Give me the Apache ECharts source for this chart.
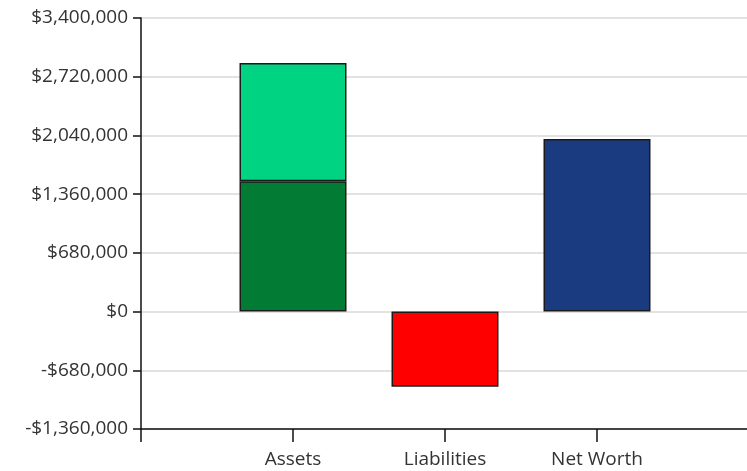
<!DOCTYPE html>
<html>
<head>
<meta charset="utf-8">
<style>
  html, body { margin: 0; padding: 0; background: #fff; }
  #chart { width: 747px; height: 471px; }
</style>
<script src="https://cdn.jsdelivr.net/npm/echarts@6/dist/echarts.min.js"></script>
</head>
<body>
<div id="chart"></div>
<script>
// Categories (blank slots at both ends keep the bars centred between the edge ticks)
const categories = ['', 'Assets', 'Liabilities', 'Net Worth', ''];

// Balance sheet values in dollars
const assetsBase = 1510000;   // lower (dark green) part of Assets
const assetsTop = 1370000;    // upper (light green) part of Assets
const liabilities = -870000;
const netWorth = 2000000;

// Value axis
const yMin = -1360000;
const yMax = 3400000;
const yStep = 680000;

const colors = {
  assetsBase: '#027b34',
  assetsTop: '#00d382',
  liabilities: '#ff0000',
  netWorth: '#1a3b80'
};

function money(v) {
  const s = '$' + Math.abs(v).toLocaleString('en-US');
  return v < 0 ? '-' + s : s;
}

const border = { borderColor: '#1a1a1a', borderWidth: 1.5 };

const chart = echarts.init(document.getElementById('chart'), null, { renderer: 'canvas' });

chart.setOption({
  animation: false,
  backgroundColor: '#ffffff',
  grid: {
    left: 141,
    width: 608,
    top: 18,
    bottom: 42,
    containLabel: false,
    outerBoundsMode: 'none'
  },
  xAxis: {
    type: 'category',
    data: categories,
    boundaryGap: false,
    axisLine: { onZero: false, lineStyle: { color: '#111', width: 1.5 } },
    axisTick: {
      show: true,
      length: 13,
      interval: (i) => i < categories.length - 1,
      lineStyle: { color: '#111', width: 1.5 }
    },
    axisLabel: { color: '#333', fontSize: 19, fontFamily: 'Open Sans', margin: 21 },
    splitLine: { show: false }
  },
  yAxis: {
    type: 'value',
    min: yMin,
    max: yMax,
    interval: yStep,
    axisLine: { show: true, lineStyle: { color: '#111', width: 1.5 } },
    axisTick: { show: true, length: 8, lineStyle: { color: '#111', width: 1.5 } },
    axisLabel: { color: '#333', fontSize: 19, fontFamily: 'Open Sans', margin: 13, formatter: money },
    splitLine: { show: true, lineStyle: { color: '#e2e2e2', width: 2 } }
  },
  series: [
    {
      type: 'bar',
      stack: 'total',
      barWidth: 107,
      data: [
        null,
        { value: assetsBase, itemStyle: Object.assign({ color: colors.assetsBase }, border) },
        { value: liabilities, itemStyle: Object.assign({ color: colors.liabilities }, border) },
        { value: netWorth, itemStyle: Object.assign({ color: colors.netWorth }, border) },
        null
      ]
    },
    {
      type: 'bar',
      stack: 'total',
      barWidth: 107,
      data: [
        null,
        { value: assetsTop, itemStyle: Object.assign({ color: colors.assetsTop }, border) },
        null,
        null,
        null
      ]
    }
  ]
});
</script>
</body>
</html>
